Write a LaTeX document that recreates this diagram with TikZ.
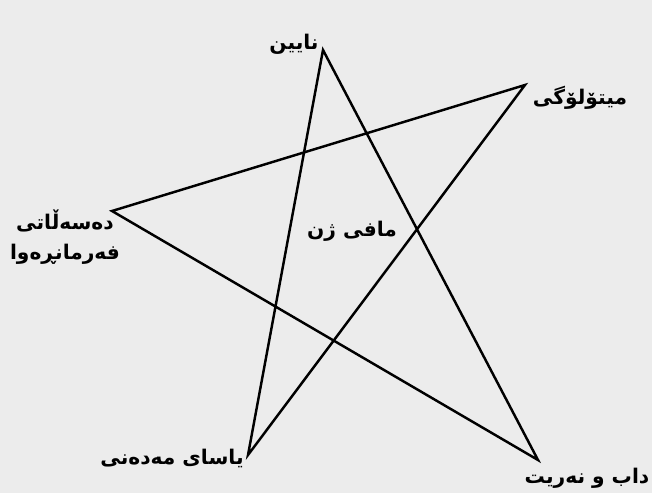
\documentclass[tikz,border=0pt]{standalone}
\usepackage{fontspec}
\newfontfamily\arabicfont[Script=Arabic]{DejaVu Sans}
\TeXXeTstate=1
\usepackage{xcolor}
\usetikzlibrary{positioning}
\definecolor{paper}{RGB}{236,236,236}

\begin{document}
\begin{tikzpicture}[x=0.02cm, y=-0.02cm, line width=1.4pt,
    lbl/.style={font=\arabicfont\bfseries\fontsize{11.5}{17}\selectfont, inner sep=0pt, align=center}]
    % 1. Nền
    \fill[paper] (0,0) rectangle (652,493);
    \useasboundingbox (0,0) rectangle (652,493);

    % 2. Các đỉnh của ngôi sao
    \coordinate (ayin) at (323,50);
    \coordinate (mitolog) at (525,85);
    \coordinate (desalat) at (112,211);
    \coordinate (yasa) at (248,455);
    \coordinate (dab) at (538,460);

    % 3. Vẽ ngôi sao năm cánh
    \draw (ayin) -- (yasa) -- (mitolog) -- (desalat) -- (dab) -- cycle;

    % 4. Nhãn
    \node[lbl] (ayinlbl) at (294,44) {\beginR نایین\endR};
    \node[lbl] (mitologlbl) at (580,98) {\beginR میتۆلۆگی\endR};
    \node[lbl] (desalatlbl) at (65,237) {\beginR دەسەڵاتی\endR\\\beginR فەرمانڕەوا\endR};
    \node[lbl] (mafilbl) at (352,231) {\beginR مافی ژن\endR};
    \node[lbl] (yasalbl) at (172,458) {\beginR یاسای مەدەنی\endR};
    \node[lbl] (dablbl) at (587,478) {\beginR داب و نەریت\endR};
\end{tikzpicture}
\end{document}
